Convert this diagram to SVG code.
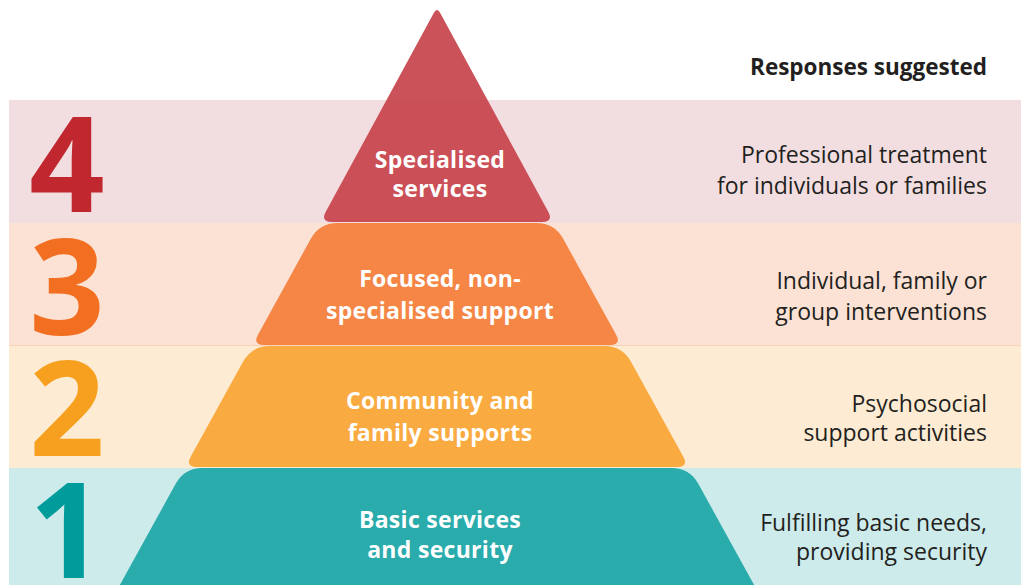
<svg xmlns="http://www.w3.org/2000/svg" width="1021" height="585" viewBox="0 0 1021 585">
<style>
.num{font-family:"Open Sans","Liberation Sans",sans-serif;font-weight:700;font-size:132px;text-anchor:middle}
.lbl{font-family:"Open Sans","Liberation Sans",sans-serif;font-weight:700;font-size:23px;letter-spacing:0.3px;fill:#FFFFFF;text-anchor:middle}
.resp{font-family:"Open Sans","Liberation Sans",sans-serif;font-size:23px;fill:#231F20;text-anchor:end}
.head{font-family:"Open Sans","Liberation Sans",sans-serif;font-weight:700;font-size:22.5px;fill:#231F20;text-anchor:end}
</style>
<rect width="1021" height="585" fill="#FFFFFF"/>
<g id="bands">
<rect x="9" y="100" width="1012" height="123" fill="#F2DEE0"/>
<rect x="9" y="223" width="1012" height="122" fill="#FBE2D5"/>
<rect x="9" y="345" width="1012" height="123" fill="#FDEBD3"/>
<rect x="9" y="468" width="1012" height="117" fill="#CDEBEB"/>
<line x1="9" y1="345.5" x2="1021" y2="345.5" stroke="#F8D3B8" stroke-width="1"/>
</g>
<g id="numbers">
<text class="num" x="67" y="212" fill="#C1272F">4</text>
<text class="num" x="67" y="335" fill="#F26F22">3</text>
<text class="num" x="67" y="456" fill="#F7A01F">2</text>
<text class="num" x="67" y="578" fill="#009B9B">1</text>
</g>
<g id="level1">
<path d="M 202.4 468 L 671.6 468 Q 689.6 468 698.3 483.8 L 756.9 590 L 117.1 590 L 175.7 483.8 Q 184.4 468 202.4 468 Z" fill="#2AABAC"/>
<text class="lbl" x="440" y="528">Basic services</text>
<text class="lbl" x="440" y="558">and security</text>
</g>
<g id="level2">
<path d="M 269.7 346 L 604.3 346 Q 622.3 346 631 361.8 L 683.2 456.5 Q 689 467 677 467 L 197 467 Q 185 467 190.8 456.5 L 243 361.8 Q 251.7 346 269.7 346 Z" fill="#F9AA40"/>
<text class="lbl" x="440" y="409">Community and</text>
<text class="lbl" x="440" y="441">family supports</text>
</g>
<g id="level3">
<path d="M 337.5 223 L 536.5 223 Q 554.5 223 563.2 238.8 L 616 334.5 Q 621.8 345 609.8 345 L 264.3 345 Q 252.3 345 258.1 334.5 L 310.8 238.8 Q 319.5 223 337.5 223 Z" fill="#F58646"/>
<text class="lbl" x="440" y="287">Focused, non-</text>
<text class="lbl" x="440" y="319">specialised support</text>
</g>
<g id="level4">
<path d="M 440.34 13.15 L 548.1 211.5 Q 553.9 222 541.9 222 L 332.1 222 Q 320.1 222 325.9 211.5 L 433.66 13.15 Q 437 7 440.34 13.15 Z" fill="#C63F47" fill-opacity="0.9"/>
<text class="lbl" x="440" y="168">Specialised</text>
<text class="lbl" x="440" y="197">services</text>
</g>
<g id="responses">
<text class="head" x="987" y="75">Responses suggested</text>
<text class="resp" x="987" y="163">Professional treatment</text>
<text class="resp" x="987" y="194">for individuals or families</text>
<text class="resp" x="987" y="289">Individual, family or</text>
<text class="resp" x="987" y="320">group interventions</text>
<text class="resp" x="987" y="412">Psychosocial</text>
<text class="resp" x="987" y="441">support activities</text>
<text class="resp" x="987" y="531">Fulfilling basic needs,</text>
<text class="resp" x="987" y="560">providing security</text>
</g>
<g id="connectors"></g>
</svg>
